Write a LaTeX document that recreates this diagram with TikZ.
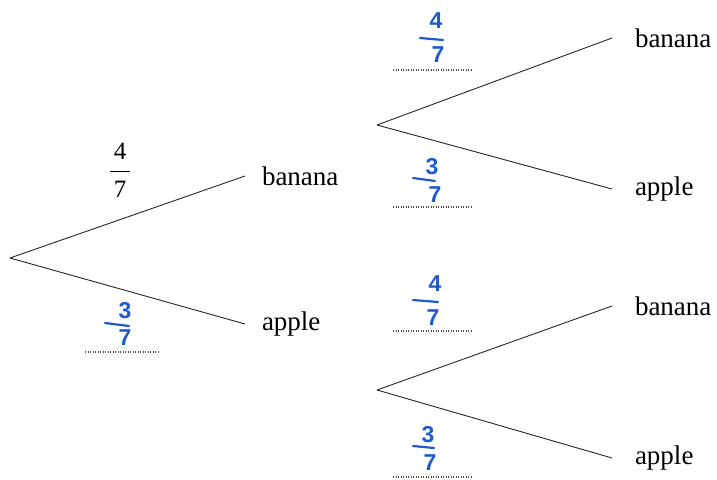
\documentclass[tikz,border=0pt]{standalone}
\usepackage{fontspec}
\setmainfont{Liberation Serif}
\newfontfamily\handfont{Liberation Sans}
\definecolor{hand}{RGB}{30,90,205}
\begin{document}
\begin{tikzpicture}[x=1pt,y=-1pt,
  branch/.style={draw=black!85, line width=0.9pt},
  leaf/.style={anchor=west, inner sep=0pt, outer xsep=17pt, font=\fontsize{27}{27}\selectfont},
  leafr/.style={leaf, outer xsep=23pt},
  hnum/.style={text=hand, font=\handfont\bfseries\fontsize{23}{23}\selectfont, inner sep=0pt},
  hbar/.style={draw=hand, line width=2.2pt, line cap=round},
  dotline/.style={draw=black!70, line width=1.1pt, dash pattern=on 1.2pt off 1.3pt},
  pnum/.style={font=\fontsize{25}{25}\selectfont, inner sep=0pt}]
\useasboundingbox (0,0) rectangle (717,479);
% first level
\coordinate (r) at (10,258);
\node[leaf] (b1) at (245,176) {banana};
\node[leaf] (a1) at (245,324) {apple};
\draw[branch] (r) -- (b1.west);
\draw[branch] (r) -- (a1.west);
% second level
\coordinate (r2) at (377,125);
\coordinate (r3) at (377,390);
\node[leafr] (b2) at (612,38) {banana};
\node[leafr] (a2) at (612,189) {apple};
\node[leafr] (b3) at (612,306) {banana};
\node[leafr] (a3) at (612,458) {apple};
\draw[branch] (r2) -- (b2.west);
\draw[branch] (r2) -- (a2.west);
\draw[branch] (r3) -- (b3.west);
\draw[branch] (r3) -- (a3.west);
% printed fraction
\node[pnum] (pn) at (120,151) {4};
\node[pnum] (pd) at (120,189) {7};
\draw[line width=0.9pt] (110,171) -- (130,171);
% handwritten fractions
\node[hnum] (n1) at (436,21) {4};
\draw[hbar] (420,38) -- (443,40);
\node[hnum] (d1) at (438,55) {7};
\draw[dotline] (393,70) -- (471,70);

\node[hnum] (n2) at (432,167) {3};
\draw[hbar] (413,178) -- (435,181);
\node[hnum] (d2) at (435,195) {7};
\draw[dotline] (393,207) -- (471,207);

\node[hnum] (n3) at (435,284) {4};
\draw[hbar] (413,300) -- (438,302);
\node[hnum] (d3) at (433,318) {7};
\draw[dotline] (393,331) -- (471,331);

\node[hnum] (n4) at (428,435) {3};
\draw[hbar] (413,446) -- (434,448);
\node[hnum] (d4) at (430,463) {7};
\draw[dotline] (393,477) -- (471,477);

\node[hnum] (n5) at (125,311) {3};
\draw[hbar] (105,323) -- (129,326);
\node[hnum] (d5) at (125,338) {7};
\draw[dotline] (85,352) -- (159,352);
\end{tikzpicture}
\end{document}
